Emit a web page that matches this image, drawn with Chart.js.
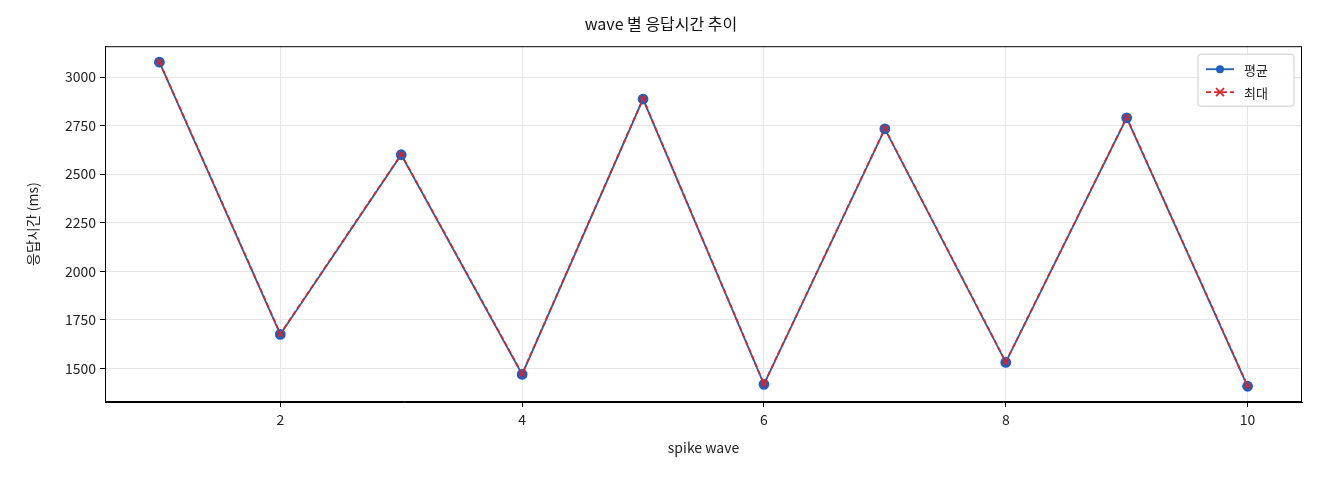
<!DOCTYPE html>
<html><head><meta charset="utf-8">
<script src="https://cdn.jsdelivr.net/npm/chart.js@4"></script>
<style>body{margin:0;background:#fff}#w{width:1320px;height:480px}</style>
</head><body><div id="w"><canvas id="c"></canvas></div>
<script>
const waves=[1,2,3,4,5,6,7,8,9,10];
const avgVals=[3077,1675,2600,1469,2887,1418,2733,1531,2790,1408];
const maxVals=[3079,1678,2602,1472,2889,1420,2735,1533,2792,1410];
const xTicks=[2,4,6,8,10];
const yTicks=[1500,1750,2000,2250,2500,2750,3000];
const F="'Noto Sans CJK KR','Noto Sans',sans-serif";
Chart.defaults.font.family=F;
Chart.defaults.color='#222';
const frame={id:'frame',afterDraw(c){const a=c.chartArea,x=c.ctx;x.save();x.strokeStyle='#000';x.lineWidth=1;x.strokeRect(a.left+.5,a.top+.5,a.right-a.left-1,a.bottom-a.top-1);
const w=96,h=52,lx=a.right-w-8,ly=a.top+8;x.fillStyle='rgba(255,255,255,0.85)';x.strokeStyle='#ccc';x.beginPath();x.roundRect(lx,ly,w,h,3);x.fill();x.stroke();
const items=[['평균','#1f5fbf',false],['최대','#d62728',true]];
items.forEach((it,i)=>{const y=ly+15+i*23;x.strokeStyle=it[1];x.lineWidth=1.8;x.setLineDash(it[2]?[5,3]:[]);x.beginPath();x.moveTo(lx+8,y);x.lineTo(lx+36,y);x.stroke();x.setLineDash([]);
if(!it[2]){x.fillStyle=it[1];x.beginPath();x.arc(lx+22,y,4,0,7);x.fill();}else{x.beginPath();x.moveTo(lx+18,y-4);x.lineTo(lx+26,y+4);x.moveTo(lx+26,y-4);x.lineTo(lx+18,y+4);x.stroke();}
x.fillStyle='#222';x.font='13px '+F;x.textBaseline='middle';x.fillText(it[0],lx+46,y+1);});
x.restore();}};
new Chart(document.getElementById('c'),{type:'line',
data:{datasets:[
{label:'평균',order:2,data:waves.map((w,i)=>({x:w,y:avgVals[i]})),borderColor:'#1f5fbf',backgroundColor:'#1f5fbf',borderWidth:1.8,pointRadius:4.5,pointStyle:'circle',pointHoverRadius:4.5},
{label:'최대',order:1,data:waves.map((w,i)=>({x:w,y:maxVals[i]})),borderColor:'#d62728',backgroundColor:'#d62728',borderWidth:1.8,borderDash:[5,3],pointRadius:4,pointStyle:'crossRot',pointBorderWidth:1.8}
]},
options:{responsive:true,maintainAspectRatio:false,animation:false,
layout:{padding:{left:20,right:18,top:0,bottom:20}},
plugins:{legend:{display:false},tooltip:{enabled:false},
title:{display:true,text:'wave 별 응답시간 추이',font:{size:16,weight:'normal'},color:'#111',padding:{top:14,bottom:13}}},
scales:{
x:{type:'linear',min:0.55,max:10.45,afterBuildTicks(s){s.ticks=xTicks.map(v=>({value:v}));},
afterFit(s){s.height=58;},
title:{display:true,text:'spike wave',font:{size:14},color:'#222',padding:{top:2}},
grid:{color:'#e6e6e6',tickColor:'#000',tickLength:5},border:{color:'#000'},ticks:{font:{size:14},color:'#222',padding:4,callback:v=>String(v)}},
y:{min:1327,max:3159,afterBuildTicks(s){s.ticks=yTicks.map(v=>({value:v}));},
afterFit(s){s.width=85;},
title:{display:true,text:'응답시간 (ms)',font:{size:14},color:'#222'},
grid:{color:'#e6e6e6',tickColor:'#000',tickLength:5},border:{color:'#000'},ticks:{font:{size:14},color:'#222',padding:4,callback:v=>String(v)}}
}},plugins:[frame]});
</script></body></html>
